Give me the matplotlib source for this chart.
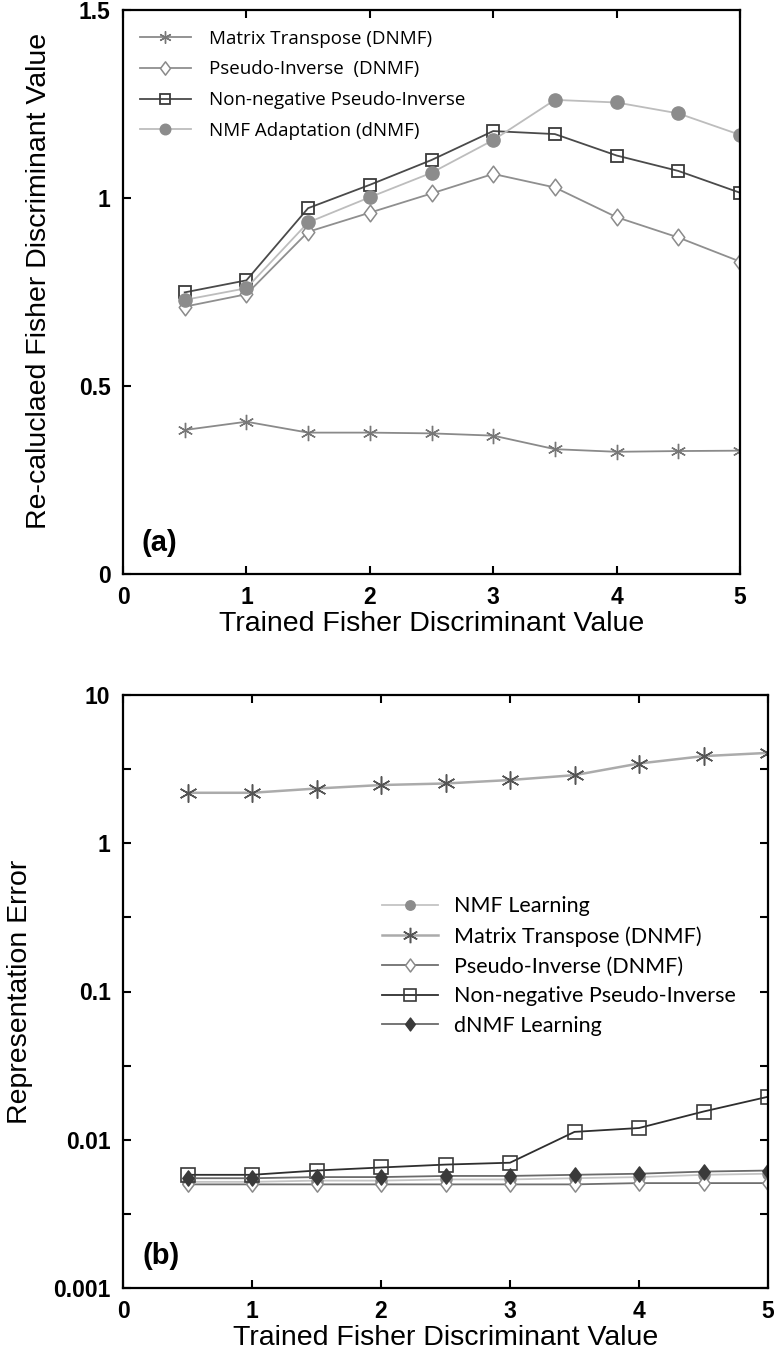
import numpy as np
import matplotlib
matplotlib.use("Agg")
import matplotlib.pyplot as plt
from matplotlib.path import Path
from matplotlib.ticker import FixedLocator, NullFormatter
from matplotlib.font_manager import FontProperties

# x values (trained Fisher discriminant value)
x = [0.5, 1.0, 1.5, 2.0, 2.5, 3.0, 3.5, 4.0, 4.5, 5.0]

# panel (a): re-calculated Fisher discriminant value
a_transpose = [0.383, 0.405, 0.376, 0.376, 0.374, 0.368, 0.332, 0.325, 0.327, 0.328]
a_pinv = [0.711, 0.744, 0.910, 0.961, 1.012, 1.064, 1.028, 0.949, 0.895, 0.831]
a_nnpinv = [0.749, 0.781, 0.973, 1.035, 1.101, 1.178, 1.170, 1.113, 1.072, 1.014]
a_nmf_adapt = [0.729, 0.760, 0.935, 1.002, 1.067, 1.154, 1.261, 1.254, 1.225, 1.168]

# panel (b): representation error
b_nmf = [0.0052, 0.0052, 0.0053, 0.0053, 0.0054, 0.0054, 0.0055, 0.0056, 0.0058, 0.0059]
b_transpose = [2.19, 2.19, 2.34, 2.47, 2.53, 2.67, 2.88, 3.45, 3.87, 4.07]
b_pinv = [0.0050, 0.0050, 0.0050, 0.0050, 0.0050, 0.0050, 0.0050, 0.0051, 0.0051, 0.0051]
b_nnpinv = [0.0058, 0.0058, 0.0062, 0.0065, 0.0068, 0.0070, 0.0113, 0.0120, 0.0155, 0.0195]
b_dnmf = [0.0055, 0.0055, 0.0056, 0.0056, 0.0057, 0.0057, 0.0058, 0.0059, 0.0061, 0.0062]

W, H = 774, 1357
fig = plt.figure(figsize=(W / 100, H / 100), dpi=100)

tickprop = FontProperties(family="Liberation Sans", weight="bold", size=16.5)
labelfont = dict(family="Liberation Sans", size=20.5)
star = (6, 2, 0)
# slightly tall diamond like the original marker
diamond = Path([(0, 1), (0.75, 0), (0, -1), (-0.75, 0), (0, 1)],
               [Path.MOVETO, Path.LINETO, Path.LINETO, Path.LINETO, Path.CLOSEPOLY])


def style_axis(ax):
    for lab in ax.get_xticklabels() + ax.get_yticklabels():
        lab.set_fontproperties(tickprop)
    for s in ax.spines.values():
        s.set_linewidth(1.6)


# ---------------- panel (a) ----------------
ax1 = fig.add_axes([123 / W, 1 - 574 / H, (740 - 123) / W, (574 - 10) / H])
ax1.plot(x, a_transpose, color="#8a8a8a", lw=1.3, marker=star, ms=11, mew=1.0,
         mec="#777777", label="Matrix Transpose (DNMF)")
ax1.plot(x, a_pinv, color="#8f8f8f", lw=1.3, marker=diamond, ms=12, mfc="white", mec="#8a8a8a",
         mew=1.1, label="Pseudo-Inverse  (DNMF)")
ax1.plot(x, a_nnpinv, color="#4a4a4a", lw=1.3, marker="s", ms=9, mfc="none", mec="#3a3a3a",
         mew=1.3, label="Non-negative Pseudo-Inverse")
ax1.plot(x, a_nmf_adapt, color="#bdbdbd", lw=1.3, marker="o", ms=9.5, mfc="#8c8c8c",
         mec="#8c8c8c", label="NMF Adaptation (dNMF)")
ax1.set_xlim(0, 5)
ax1.set_ylim(0, 1.5)
ax1.set_xticks([0, 1, 2, 3, 4, 5])
ax1.set_yticks([0, 0.5, 1, 1.5])
ax1.set_yticklabels(["0", "0.5", "1", "1.5"])
ax1.tick_params(direction="in", top=True, right=False, length=6, width=1.5, pad=9)
style_axis(ax1)
ax1.set_xlabel("Trained Fisher Discriminant Value", fontdict=labelfont)
ax1.set_ylabel("Re-caluclaed Fisher Discriminant Value", fontdict=labelfont)
ax1.xaxis.set_label_coords(0.5, -0.066)
ax1.yaxis.set_label_coords(-0.115, 0.52)
ax1.text(0.03, 0.03, "(a)", transform=ax1.transAxes, fontsize=21, fontweight="bold",
         family="Liberation Sans", va="bottom")
ax1.legend(loc="upper left", bbox_to_anchor=(0.0, 0.995), frameon=False,
           prop={"family": "Open Sans", "size": 13.5}, handlelength=2.7,
           labelspacing=0.68, handletextpad=1.0, markerscale=0.8)

# ---------------- panel (b) ----------------
ax2 = fig.add_axes([123 / W, 1 - 1288 / H, (768 - 123) / W, (1288 - 695) / H])
ax2.plot(x, b_nmf, color="#c4c4c4", lw=1.3, marker="o", ms=8, mfc="#8c8c8c", mec="#8c8c8c",
         label="NMF Learning")
ax2.plot(x, b_transpose, color="#ababab", lw=1.8, marker=star, ms=13, mew=1.1,
         mec="#555555", label="Matrix Transpose (DNMF)")
ax2.plot(x, b_pinv, color="#6f6f6f", lw=1.3, marker=diamond, ms=11, mfc="white", mec="#8a8a8a",
         mew=1.1, label="Pseudo-Inverse (DNMF)")
ax2.plot(x, b_nnpinv, color="#2e2e2e", lw=1.3, marker="s", ms=10, mfc="none", mec="#3a3a3a",
         mew=1.2, label="Non-negative Pseudo-Inverse")
ax2.plot(x, b_dnmf, color="#6a6a6a", lw=1.3, marker=diamond, ms=11, mfc="#3a3a3a",
         mec="#3a3a3a", label="dNMF Learning")
ax2.set_yscale("log")
ax2.set_xlim(0, 5)
ax2.set_ylim(0.001, 10)
ax2.set_xticks([0, 1, 2, 3, 4, 5])
ax2.set_yticks([0.001, 0.01, 0.1, 1, 10])
ax2.set_yticklabels(["0.001", "0.01", "0.1", "1", "10"])
ax2.yaxis.set_minor_locator(FixedLocator([10 ** (k + 0.5) for k in range(-3, 1)]))
ax2.yaxis.set_minor_formatter(NullFormatter())
ax2.tick_params(which="both", direction="in", top=True, right=True, length=6, width=1.5, pad=9)
style_axis(ax2)
ax2.set_xlabel("Trained Fisher Discriminant Value", fontdict=labelfont)
ax2.set_ylabel("Representation Error", fontdict=labelfont)
ax2.xaxis.set_label_coords(0.5, -0.062)
ax2.yaxis.set_label_coords(-0.14, 0.5)
ax2.text(0.03, 0.03, "(b)", transform=ax2.transAxes, fontsize=21, fontweight="bold",
         family="Liberation Sans", va="bottom")
ax2.legend(loc="upper left", bbox_to_anchor=(0.372, 0.693), frameon=False,
           prop={"family": "Lato", "size": 15.5}, handlelength=2.6,
           labelspacing=0.45, handletextpad=0.75, markerscale=0.85)

fig.savefig("out.png", dpi=100)
